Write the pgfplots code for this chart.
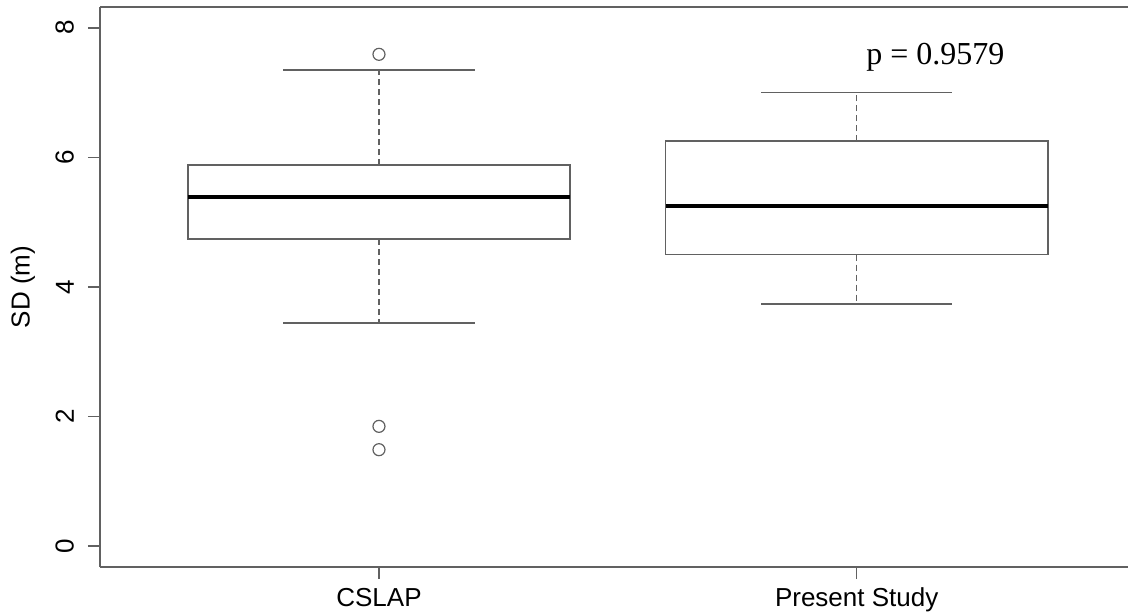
\documentclass[border=0pt]{standalone}
\usepackage{fontspec}
\setmainfont{Liberation Sans}
\newfontfamily\timesfont{Liberation Serif}
\usepackage{pgfplots}
\pgfplotsset{compat=1.18}
\usepgfplotslibrary{statistics}

\definecolor{rline}{gray}{0.38}

\begin{document}
\begin{tikzpicture}
\begin{axis}[
    at={(0,0)}, anchor=south west,
    scale only axis,
    width=514pt, height=280pt,
    xmin=0.416, xmax=2.568,
    ymin=-0.32, ymax=8.32,
    axis y line*=left,
    axis line style={rline, line width=0.8pt},
    xtick={1,2},
    xticklabels={CSLAP, Present Study},
    ytick={0,2,4,6,8},
    tick align=outside,
    major tick length=6pt,
    every tick/.style={rline, line width=0.8pt},
    xtick pos=bottom,
    ytick pos=left,
    /pgf/number format/assume math mode=true,
    tick label style={font=\fontsize{13}{15}\selectfont},
    yticklabel style={xshift=-3.5pt, rotate=90, anchor=south},
    xticklabel style={yshift=-1pt},
    ylabel={SD (m)},
    every axis y label/.style={at={(axis description cs:0,0.5)}, xshift=-38.5pt,
        rotate=90, anchor=center, font=\fontsize{13}{15}\selectfont},
    clip=false,
    boxplot/draw direction=y,
    boxplot/box extend=0.8,
    boxplot/whisker extend=0.4,
    boxplot/every box/.style={draw=rline, line width=0.8pt},
    boxplot/every median/.style={draw=black, line width=1.75pt},
    boxplot/draw/lower whisker/.code={%
        \draw[rline, line width=0.8pt, dash pattern=on 3pt off 2pt]
            (boxplot box cs:\pgfplotsboxplotvalue{lower quartile},0.5) --
            (boxplot box cs:\pgfplotsboxplotvalue{lower whisker},0.5);
        \draw[rline, line width=0.8pt]
            (boxplot whisker cs:\pgfplotsboxplotvalue{lower whisker},0) --
            (boxplot whisker cs:\pgfplotsboxplotvalue{lower whisker},1);
    },
    boxplot/draw/upper whisker/.code={%
        \draw[rline, line width=0.8pt, dash pattern=on 3pt off 2pt]
            (boxplot box cs:\pgfplotsboxplotvalue{upper quartile},0.5) --
            (boxplot box cs:\pgfplotsboxplotvalue{upper whisker},0.5);
        \draw[rline, line width=0.8pt]
            (boxplot whisker cs:\pgfplotsboxplotvalue{upper whisker},0) --
            (boxplot whisker cs:\pgfplotsboxplotvalue{upper whisker},1);
    },
]
% CSLAP
\addplot[rline, mark=o, mark size=3pt, mark options={rline, line width=0.6pt},
    boxplot prepared={draw position=1,
        lower whisker=3.44, lower quartile=4.74, median=5.39,
        upper quartile=5.88, upper whisker=7.35}]
    table[row sep=\\, header=false, y index=0] {7.59\\ 1.85\\ 1.49\\};
% Present Study
\addplot[rline, mark=o, mark size=3pt,
    boxplot prepared={draw position=2,
        lower whisker=3.74, lower quartile=4.50, median=5.25,
        upper quartile=6.25, upper whisker=7.00}]
    coordinates {};
\node[anchor=base, font=\timesfont\fontsize{16}{18}\selectfont] at (axis cs:2.165,7.43) {p = 0.9579};
\end{axis}
\pgfresetboundingbox
\path (-50pt,-24pt) rectangle (514pt,283.5pt);
\end{tikzpicture}
\end{document}
